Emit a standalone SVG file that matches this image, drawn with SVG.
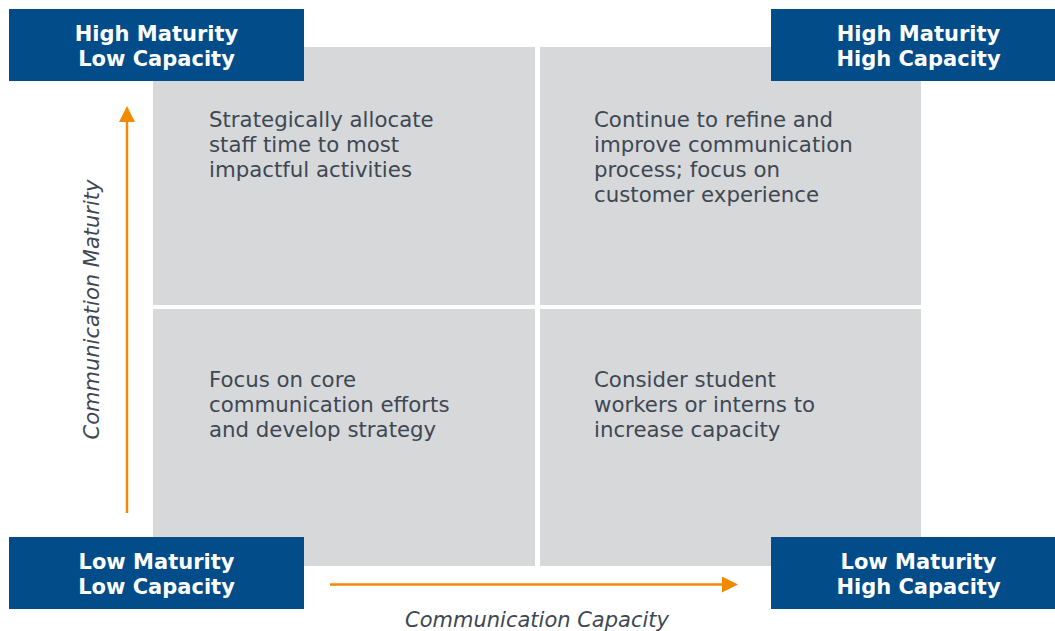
<svg xmlns="http://www.w3.org/2000/svg" width="1055" height="631" viewBox="0 0 1055 631">
  <style>
    .quad { fill: #d7d8da; }
    .badge { fill: #024c8a; }
    .badge-text { font-family: "DejaVu Sans", Verdana, sans-serif; font-size: 21px; font-weight: bold; fill: #ffffff; text-anchor: middle; }
    .body { font-family: "DejaVu Sans", Verdana, sans-serif; font-size: 21.3px; fill: #3e4853; }
    .axis-label { font-family: "DejaVu Sans", Verdana, sans-serif; font-size: 21px; font-style: italic; fill: #3e4853; text-anchor: middle; }
    .axis { stroke: #f18a00; stroke-width: 2.5; fill: none; }
  </style>
  <defs>
    <marker id="arrowhead" viewBox="0 0 16 16" refX="0" refY="8" markerWidth="16" markerHeight="16" markerUnits="userSpaceOnUse" orient="auto">
      <path d="M0,0 L16,8 L0,16 Z" fill="#f18a00"/>
    </marker>
  </defs>

  <rect width="1055" height="631" fill="#ffffff"/>

  <!-- quadrant grid -->
  <g id="quadrant-top-left">
    <rect class="quad" x="153" y="47" width="382" height="258"/>
    <text class="body" x="209" y="126.5">Strategically allocate</text>
    <text class="body" x="209" y="151.5">staff time to most</text>
    <text class="body" x="209" y="176.5">impactful activities</text>
  </g>
  <g id="quadrant-top-right">
    <rect class="quad" x="540" y="47" width="381" height="258"/>
    <text class="body" x="594" y="126.5">Continue to refine and</text>
    <text class="body" x="594" y="151.5">improve communication</text>
    <text class="body" x="594" y="176.5">process; focus on</text>
    <text class="body" x="594" y="201.5">customer experience</text>
  </g>
  <g id="quadrant-bottom-left">
    <rect class="quad" x="153" y="309" width="382" height="257"/>
    <text class="body" x="209" y="386.5">Focus on core</text>
    <text class="body" x="209" y="411.5">communication efforts</text>
    <text class="body" x="209" y="436.5">and develop strategy</text>
  </g>
  <g id="quadrant-bottom-right">
    <rect class="quad" x="540" y="309" width="381" height="257"/>
    <text class="body" x="594" y="386.5">Consider student</text>
    <text class="body" x="594" y="411.5">workers or interns to</text>
    <text class="body" x="594" y="436.5">increase capacity</text>
  </g>

  <!-- corner badges -->
  <g id="badge-high-low">
    <rect class="badge" x="9" y="9" width="295" height="72"/>
    <text class="badge-text" x="156.5" y="41">High Maturity</text>
    <text class="badge-text" x="156.5" y="66">Low Capacity</text>
  </g>
  <g id="badge-high-high">
    <rect class="badge" x="771" y="9" width="295" height="72"/>
    <text class="badge-text" x="918.5" y="41">High Maturity</text>
    <text class="badge-text" x="918.5" y="66">High Capacity</text>
  </g>
  <g id="badge-low-low">
    <rect class="badge" x="9" y="537" width="295" height="72"/>
    <text class="badge-text" x="156.5" y="569">Low Maturity</text>
    <text class="badge-text" x="156.5" y="594">Low Capacity</text>
  </g>
  <g id="badge-low-high">
    <rect class="badge" x="771" y="537" width="295" height="72"/>
    <text class="badge-text" x="918.5" y="569">Low Maturity</text>
    <text class="badge-text" x="918.5" y="594">High Capacity</text>
  </g>

  <!-- axes -->
  <g id="connectors">
    <line class="axis" x1="127" y1="513" x2="127" y2="122" marker-end="url(#arrowhead)"/>
    <line class="axis" x1="330" y1="584.5" x2="722" y2="584.5" marker-end="url(#arrowhead)"/>
  </g>

  <g id="axis-labels">
    <text class="axis-label" transform="translate(99,309.5) rotate(-90)">Communication Maturity</text>
    <text class="axis-label" x="537" y="627">Communication Capacity</text>
  </g>
</svg>
